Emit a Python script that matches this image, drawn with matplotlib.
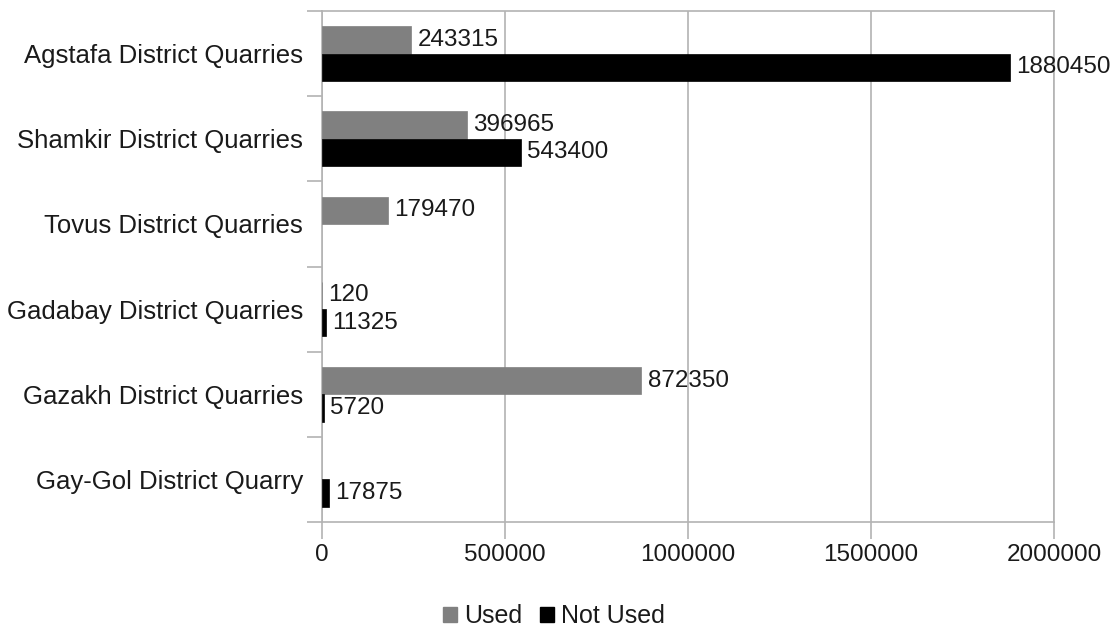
import matplotlib
matplotlib.use("Agg")
import matplotlib.pyplot as plt
import numpy as np
from matplotlib.patches import Patch

categories = ["Agstafa District Quarries", "Shamkir District Quarries", "Tovus District Quarries",
              "Gadabay District Quarries", "Gazakh District Quarries", "Gay-Gol District Quarry"]
used = [243315, 396965, 179470, 120, 872350, None]
not_used = [1880450, 543400, None, 11325, 5720, 17875]
series_names = ["Used", "Not Used"]
xticks = [0, 500000, 1000000, 1500000, 2000000]

plt.rcParams['font.family'] = ['Liberation Sans', 'DejaVu Sans']
fig = plt.figure(figsize=(11.15, 6.28), dpi=100)
ax = fig.add_axes([322/1115, 1-522/628, (1054-322)/1115, (522-11)/628])

grid_c = "#b3b3b3"
text_c = "#1a1a1a"
fs_cat = 18.5
fs_val = 17.5
fs_leg = 18
h = 0.32
y = np.arange(len(categories))

for vals, off, col in [(used, -h/2, "#808080"), (not_used, h/2, "#000000")]:
    for yi, v in zip(y, vals):
        if v is None:
            continue
        ax.barh(yi + off, v, height=h, color=col, edgecolor=col, linewidth=0.5, zorder=3)
        ax.text(v + 17000, yi + off, str(v), va="center", ha="left", fontsize=fs_val, color=text_c, zorder=4)

ax.set_xlim(0, 2000000)
ax.set_ylim(len(categories) - 0.5, -0.5)
ax.set_xticks(xticks)
ax.set_xticklabels([str(t) for t in xticks], fontsize=fs_val, color=text_c)
ax.xaxis.grid(True, color=grid_c, linewidth=1.2, zorder=0)
ax.set_axisbelow(True)
ax.tick_params(axis="x", direction="out", length=12, color=grid_c, width=1.2, pad=4)

ax.set_yticks(np.arange(-0.5, len(categories), 1.0))
ax.set_yticklabels([])
ax.tick_params(axis="y", which="major", direction="out", length=11, color=grid_c, width=1.2)
ax.set_yticks(y, minor=True)
ax.set_yticklabels(categories, minor=True, fontsize=fs_cat, color=text_c)
ax.tick_params(axis="y", which="minor", length=0, pad=13.5)

for s in ax.spines.values():
    s.set_color(grid_c)
    s.set_linewidth(1.2)

handles = [Patch(facecolor="#808080", edgecolor="#808080"), Patch(facecolor="#000000", edgecolor="#000000")]
fig.legend(handles, series_names, loc="center", bbox_to_anchor=(554/1115, 1-616/628), ncol=2, frameon=False,
           fontsize=fs_leg, handlelength=0.55, handleheight=0.55, handletextpad=0.3, columnspacing=0.7,
           labelcolor=text_c)

fig.savefig("out.png", dpi=100)
